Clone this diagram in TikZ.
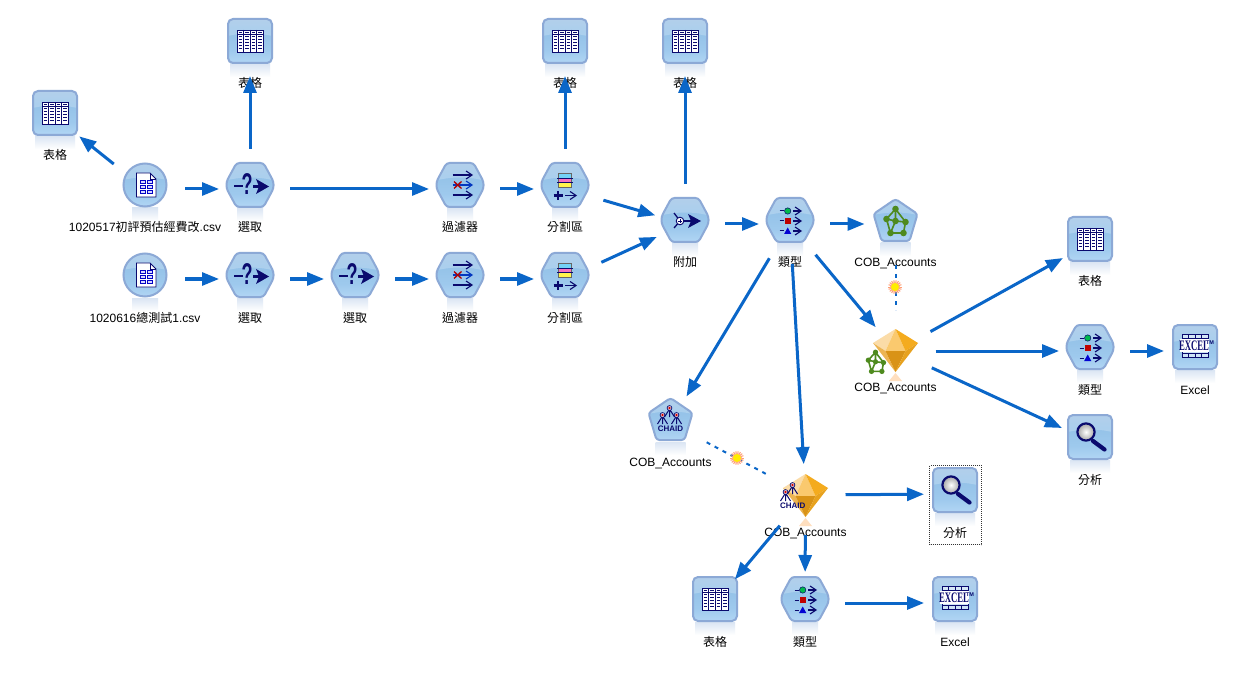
\documentclass[tikz,border=0pt]{standalone}
\usepackage{fontspec}
\setmainfont{Liberation Sans}
\newfontfamily\cj{Noto Sans CJK TC}
\newfontfamily\serifb{Liberation Serif}
\usetikzlibrary{arrows.meta}
\definecolor{link}{HTML}{0A66C8}
\definecolor{navy}{HTML}{0A0A6E}
\definecolor{edge}{HTML}{8CA9D6}
\definecolor{greenN}{HTML}{4E8A1E}
\definecolor{mirror}{HTML}{DAE5F3}
\pgfdeclareverticalshading{iconbody}{100bp}{rgb(0bp)=(.70,.84,.96); rgb(25bp)=(.70,.84,.96); rgb(40bp)=(.62,.79,.93); rgb(60bp)=(.58,.76,.91); rgb(75bp)=(.62,.76,.90); rgb(100bp)=(.62,.76,.90)}
\tikzset{
 hub/.style={circle,inner sep=0pt,minimum size=1pt},
 lab/.style={inner sep=0pt,text height=9pt,text depth=3pt,font=\fontsize{12}{14}\selectfont,text=black},
 flow/.style={draw=link,line width=3pt,-{Triangle[length=17pt,width=13pt]},shorten <=40pt,shorten >=31pt},
 modellink/.style={draw=link,line width=2pt,dash pattern=on 4pt off 5pt,shorten <=41pt,shorten >=41pt},
 selbox/.style={draw=black!80,line width=.6pt,dash pattern=on 1pt off 1pt},
 gn/.style={line width=1.6pt,draw=greenN},
 nvarrow/.style={draw=navy,line width=1.1pt,-{Straight Barb[length=6pt,width=8pt]}},
 HTML/.code={\definecolor{tmpc}{HTML}{#1}\tikzset{color=tmpc}},
}
% gloss and reflections
\newcommand\gloss{\fill[white,opacity=.22] (-30,-30)--(30,-30)--(30,-3) .. controls (10,-9) and (-10,-9) .. (-30,-3)--cycle;}
\newcommand\reflect[1]{\shade[top color=mirror,bottom color=white] (-#1,23) rectangle (#1,36);}
% base shapes
\newcommand\shHex{\reflect{13}
 \begin{scope}\clip[rounded corners=3pt] (-13.5,-22)--(13.5,-22)--(23.5,-3.5)--(23.5,3.5)--(13.5,22)--(-13.5,22)--(-23.5,3.5)--(-23.5,-3.5)--cycle;\path[shading=iconbody] (-25,-23) rectangle (25,23);\gloss\end{scope}
 \draw[draw=edge,line width=2pt,rounded corners=3pt] (-13.5,-22)--(13.5,-22)--(23.5,-3.5)--(23.5,3.5)--(13.5,22)--(-13.5,22)--(-23.5,3.5)--(-23.5,-3.5)--cycle;}
\newcommand\shSq{\reflect{20}
 \begin{scope}\clip[rounded corners=5pt] (-22,-22) rectangle (22,22);\path[shading=iconbody] (-23,-23) rectangle (23,23);\gloss\end{scope}
 \draw[draw=edge,line width=2pt,rounded corners=5pt] (-22,-22) rectangle (22,22);}
\newcommand\shCirc{\reflect{13}
 \begin{scope}\clip (0,0) circle[radius=21.5];\path[shading=iconbody] (-23,-23) rectangle (23,23);\gloss\end{scope}
 \draw[draw=edge,line width=2pt] (0,0) circle[radius=21.5];}
\newcommand\shPent{\reflect{15}
 \begin{scope}\clip[rounded corners=3pt] (0,-21)--(22,-6)--(14,21)--(-14,21)--(-22,-6)--cycle;\path[shading=iconbody] (-23,-22) rectangle (23,22);\gloss\end{scope}
 \draw[draw=edge,line width=2pt,rounded corners=3pt] (0,-21)--(22,-6)--(14,21)--(-14,21)--(-22,-6)--cycle;}
\newcommand\shGold{%
 \fill[orange!25!white] (0,23)--(6.5,31)--(-6.5,31)--cycle;
 \fill[HTML=FBDCA8] (0,-21)--(-22.5,-7)--(-10,1)--cycle;
 \fill[HTML=FAC96E] (0,-21)--(-10,1)--(10,1)--cycle;
 \fill[HTML=F4AB1E] (0,-21)--(10,1)--(22.5,-7)--cycle;
 \fill[HTML=EDB552] (-22.5,-7)--(-10,1)--(0,22)--cycle;
 \fill[HTML=D99317] (-10,1)--(10,1)--(0,22)--cycle;
 \fill[HTML=E7A21F] (10,1)--(22.5,-7)--(0,22)--cycle;}
% glyphs
\newcommand\glTable{\fill[white] (-13,-11) rectangle (13,11);
 \foreach \cx in {-13,-6.5,0,6.5}{\foreach \cy in {-9,-4.5,-1.5,1.5,4.5,7.5}{\draw[navy,line width=.7pt] (\cx+1.5,\cy)--(\cx+5,\cy);}}
 \draw[navy,line width=.9pt] (-13,-11) rectangle (13,11) (-13,-6.5)--(13,-6.5) (-6.5,-11)--(-6.5,11) (0,-11)--(0,11) (6.5,-11)--(6.5,11);}
\newcommand\glFile{\draw[navy,line width=.9pt,fill=white] (-8.5,-12)--(5,-12)--(11,-6)--(11,12)--(-8.5,12)--cycle;
 \draw[navy,line width=.7pt] (5,-12)--(5,-6)--(11,-6);
 \foreach \cy in {-3,2,7}{\draw[blue!60!navy,line width=.7pt,fill=blue!15] (-5,\cy-1.2) rectangle (0,\cy+1.2) (2,\cy-1.2) rectangle (7.5,\cy+1.2);}}
\newcommand\glSelect{\draw[navy,line width=2pt] (-16,1.5)--(-7,1.5);
 \node[hub,text=navy,font=\fontsize{30}{30}\bfseries\selectfont,xscale=.6] (q) at (-3,-1) {?};
 \draw[navy,line width=2.2pt] (3,1.5)--(12,1.5);
 \fill[navy] (6,-6)--(19,1.5)--(6,9)--(9,1.5)--cycle;}
\newcommand\glFilter{\draw[nvarrow] (-7.5,-10)--(13,-10);
 \draw[nvarrow,draw=blue!45!navy!80!cyan] (-7.5,0)--(13,0);
 \draw[nvarrow] (-7.5,10)--(13,10);
 \draw[red!70!black,line width=1.3pt] (-6,-3.5)--(1.5,3.5) (-6,3.5)--(1.5,-3.5);}
\newcommand\glPart{\fill[cyan!55] (-6.5,-12) rectangle (6.5,-7);\fill[magenta!55] (-6.5,-7) rectangle (6.5,-3);\fill[yellow!70] (-6.5,-3) rectangle (6.5,2);
 \draw[black!60,line width=.7pt] (-6.5,-12) rectangle (6.5,2);
 \draw[navy,line width=.7pt] (-8,-7)--(8,-7) (-8,-3)--(8,-3);
 \draw[navy,line width=2.6pt] (-11.5,10.5)--(-2.5,10.5) (-7,6)--(-7,15);
 \draw[nvarrow] (0,10.5)--(12,10.5);}
\newcommand\glAppend{\draw[navy,line width=1.3pt] (-11,-7)--(-5,1)--(-11,8);
 \draw[navy,line width=2pt] (-3,1)--(8,1);
 \fill[navy] (3,-6)--(16,1)--(3,8)--(6,1)--cycle;
 \draw[navy,line width=.9pt,fill=white] (-5,1) circle[radius=3.8];
 \draw[navy,line width=.9pt] (-7.4,1)--(-2.6,1) (-5,-1.4)--(-5,3.4);}
\newcommand\glType{\foreach \cy in {-9,1,11}{\draw[navy,line width=1pt] (-10.5,\cy)--(-6,\cy);\draw[nvarrow,line width=1.1pt] (3,\cy)--(12,\cy);}
 \fill[green!60!black!70!cyan] (-2.3,-9) circle[radius=3.2];
 \draw[navy,line width=.5pt] (-2.3,-9) circle[radius=3.2];
 \fill[red!75!black] (-5.3,-2) rectangle (.7,4);
 \fill[blue!70!navy] (-2.3,7.5)--(1.3,14)--(-5.9,14)--cycle;}
\newcommand\glNet{\draw[gn] (0,-11)--(-9,-1) (-9,-1)--(-5,13)--(8,13)--(10,2)--(0,-11)--(0,1)--(10,2) (0,1)--(-5,13) (0,1)--(-9,-1);
 \foreach \a/\b in {0/-11,-9/-1,0/1,10/2,-5/13,8/13}{\fill[greenN] (\a,\b) circle[radius=3.3];}}
\newcommand\glTree[2]{\draw[navy,line width=1pt] (#1,#2+1)--(#1-5,#2+9) (#1,#2+1)--(#1,#2+9) (#1,#2+1)--(#1+5,#2+9);
 \draw[navy,line width=.7pt,fill=white] (#1,#2) circle[radius=2.4];\fill[red!80!black] (#1,#2) circle[radius=1.4];}
\newcommand\chaidtxt[2]{\node[hub,text=navy,font=\fontsize{8}{9}\bfseries\selectfont] (ct) at (#1,#2) {CHAID};}
\newcommand\glChaid{\glTree{-8}{-4}\glTree{6}{-4}\glTree{-1}{-11}\chaidtxt{0}{9.5}}
\newcommand\glExcel{\fill[white,opacity=.5] (-13,-12.5) rectangle (13,10);
 \draw[navy,line width=.8pt] (-13,-12.5) rectangle (13,10) (-13,-9)--(13,-9) (-13,6)--(13,6) (-6.5,-12.5)--(-6.5,-9) (0,-12.5)--(0,-9) (6.5,-12.5)--(6.5,-9) (-6.5,6)--(-6.5,10) (0,6)--(0,10) (6.5,6)--(6.5,10);
 \fill[white] (-15,-8) rectangle (14,5);
 \node[hub,text=navy,font=\serifb\fontsize{14.5}{15}\bfseries\selectfont,xscale=.6] (xl) at (-1,-1.3) {EXCEL};
 \node[hub,text=navy,font=\fontsize{5.5}{6}\bfseries\selectfont] (tm) at (15,-4.5) {TM};}
\newcommand\glLens{\draw[navy,line width=4.2pt,line cap=round] (3,4)--(14.5,12.5);
 \shade[inner color=white,outer color=black!35,draw=navy,line width=2.2pt] (-4,-5) circle[radius=8.6];}
\newcommand\hubdy{4}
\newcommand\labdy{44}
\newcommand\Icon[6]{\begin{scope}[shift={(#2,#3)}]#4#5\end{scope}
 \node[hub] (#1) at (#2,#3+\hubdy) {};
 \node[lab] (#1-l) at (#2,#3+\labdy) {#6};}
\newcommand\Sun[3]{\begin{scope}[shift={(#2,#3)}]
 \foreach \a in {0,20,...,340}{\draw[orange!60!red!55!white,line width=1pt] (0,0)--(\a:6.8);}
 \fill[orange!60!red!45!white] (0,0) circle[radius=5];
 \fill[yellow!95!orange] (0,0) circle[radius=4];
 \end{scope}\coordinate (#1) at (#2,#3);}
\newcommand\tb{{\cj 表格}}
\newcommand\sel{{\cj 選取}}
\newcommand\flt{{\cj 過濾器}}
\newcommand\prt{{\cj 分割區}}
\newcommand\typ{{\cj 類型}}
\newcommand\ana{{\cj 分析}}
\begin{document}
\begin{tikzpicture}[x=1pt,y=-1pt]
\fill[white] (0,0) rectangle (1240,679);
\useasboundingbox (0,0) rectangle (1240,679);
\Icon{t0}{55}{113}{\shSq}{\glTable}{\tb}
\Icon{t1}{250}{41}{\shSq}{\glTable}{\tb}
\Icon{t2}{565}{41}{\shSq}{\glTable}{\tb}
\Icon{t3}{685}{41}{\shSq}{\glTable}{\tb}
\Icon{t4}{1090}{239}{\shSq}{\glTable}{\tb}
\Icon{t5}{715}{599}{\shSq}{\glTable}{\tb}
\Icon{f1}{145}{185}{\shCirc}{\glFile}{1020517{\cj 初評預估經費改}.csv}
\Icon{f2}{145}{275}{\shCirc}{\glFile}{1020616{\cj 總測試}1.csv}
\Icon{s1}{250}{185}{\shHex}{\glSelect}{\sel}
\Icon{s2}{250}{275}{\shHex}{\glSelect}{\sel}
\Icon{s3}{355}{275}{\shHex}{\glSelect}{\sel}
\Icon{fl1}{460}{185}{\shHex}{\glFilter}{\flt}
\Icon{fl2}{460}{275}{\shHex}{\glFilter}{\flt}
\Icon{p1}{565}{185}{\shHex}{\glPart}{\prt}
\Icon{p2}{565}{275}{\shHex}{\glPart}{\prt}
\Icon{ap}{685}{220}{\shHex}{\glAppend}{{\cj 附加}}
\Icon{ty1}{790}{220}{\shHex}{\glType}{\typ}
\Icon{ty2}{1090}{347}{\shHex}{\glType}{\typ}
\Icon{ty3}{805}{599}{\shHex}{\glType}{\typ}
\Icon{net}{895.5}{220}{\shPent}{\glNet}{COB\_Accounts}
\Icon{ch}{670.5}{419}{\shPent}{\glChaid}{COB\_Accounts}
\renewcommand\hubdy{1}\renewcommand\labdy{38.7}
\Icon{gn1}{895.5}{350}{\shGold}{\begin{scope}[shift={(-20,11)},scale=.8]\glNet\end{scope}}{COB\_Accounts}
\renewcommand\hubdy{0}
\Icon{gn2}{805.5}{495}{\shGold}{\glTree{-20}{-3}\glTree{-13}{-10}\chaidtxt{-12.7}{11}}{COB\_Accounts}
\renewcommand\hubdy{4}\renewcommand\labdy{44}
\Icon{x1}{1195}{347}{\shSq}{\glExcel}{Excel}
\Icon{x2}{955}{599}{\shSq}{\glExcel}{Excel}
\Icon{an1}{1090}{437}{\shSq}{\glLens}{\ana}
\Icon{an2}{955}{490}{\shSq}{\glLens}{\ana}
\draw[selbox] (929.5,465.5) rectangle (981.5,544.5);
\draw[modellink] (net.center)--(gn1.center);
\draw[modellink] (ch.center)--(gn2.center);
\Sun{sun1}{895}{287}
\Sun{sun2}{737}{458}
\foreach \a/\b in {f1/t0,f1/s1,s1/t1,s1/fl1,fl1/p1,p1/t2,p1/ap,f2/s2,s2/s3,s3/fl2,fl2/p2,p2/ap,ap/t3,ap/ty1,ty1/net,ty1/gn1,ty1/ch,ty1/gn2,gn1/t4,gn1/ty2,gn1/an1,ty2/x1,gn2/an2,gn2/t5,gn2/ty3,ty3/x2}{\draw[flow] (\a.center)--(\b.center);}
\end{tikzpicture}
\end{document}
